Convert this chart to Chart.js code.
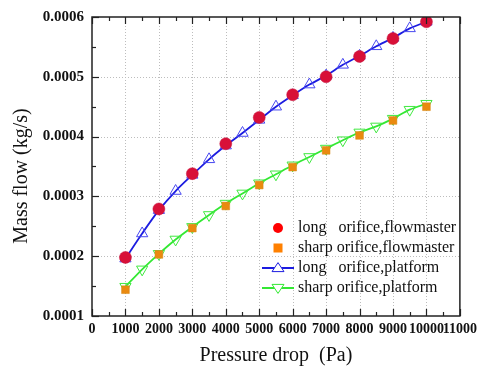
<!DOCTYPE html>
<html><head><meta charset="utf-8">
<script src="https://cdn.jsdelivr.net/npm/chart.js@4/dist/chart.umd.min.js"></script>
<style>html,body{margin:0;padding:0;background:#fff;}#wrap{width:482px;height:371px;}</style>
</head><body><div id="wrap"><canvas id="c" width="482" height="371"></canvas></div>
<script>
const xFlowmaster = [1000,2000,3000,4000,5000,6000,7000,8000,9000,10000];
const longFlowmaster = [0.000198,0.000279,0.000338,0.000388,0.000432,0.000470,0.000500,0.000534,0.000564,0.000592];
const sharpFlowmaster = [0.000144,0.000203,0.000247,0.000284,0.000319,0.000349,0.000377,0.000402,0.000427,0.000450];
const xPlatform = [1000,1500,2000,2500,3000,3500,4000,4500,5000,5500,6000,6500,7000,7500,8000,8500,9000,9500,10000];
const longPlatform = [0.000196,0.000238,0.000277,0.000309,0.000336,0.000362,0.000385,0.000406,0.000428,0.000450,0.000469,0.000487,0.000502,0.000520,0.000535,0.000551,0.000565,0.000581,0.000592];
const sharpPlatform = [0.000149,0.000178,0.000204,0.000228,0.000249,0.000269,0.000288,0.000305,0.000322,0.000337,0.000352,0.000366,0.000380,0.000394,0.000407,0.000417,0.000430,0.000445,0.000455];
const seriesLabels = ['long   orifice,flowmaster','sharp orifice,flowmaster','long   orifice,platform','sharp orifice,platform'];
const xTitle = 'Pressure drop  (Pa)';
const yTitle = 'Mass flow (kg/s)';
const xRange = [0, 11000, 1000];
const yRange = [0.0001, 0.0006, 0.0001];

const pts = (xs, ys) => xs.map((x,i)=>({x:x,y:ys[i]}));
const SERIF = "'Liberation Serif','Times New Roman',serif";

const deco = {
  id:'deco',
  beforeDatasetsDraw(chart){
    const {ctx, chartArea:a, scales:{x,y}} = chart;
    ctx.save();
    ctx.strokeStyle='#bdbdbd'; ctx.lineWidth=1; ctx.setLineDash([1,2]);
    for(let v=xRange[0]+xRange[2]; v<xRange[1]; v+=xRange[2]){
      const px=Math.round(x.getPixelForValue(v))+0.5;
      ctx.beginPath(); ctx.moveTo(px,a.top); ctx.lineTo(px,a.bottom); ctx.stroke();
    }
    for(let k=1;k<5;k++){
      const v=yRange[0]+k*yRange[2];
      const py=Math.round(y.getPixelForValue(v))+0.5;
      ctx.beginPath(); ctx.moveTo(a.left,py); ctx.lineTo(a.right,py); ctx.stroke();
    }
    ctx.restore();
  },
  afterDatasetsDraw(chart){
    const {ctx, chartArea:a, scales:{x,y}} = chart;
    ctx.save();
    ctx.setLineDash([]);
    ctx.strokeStyle='#222'; ctx.lineWidth=1.5;
    ctx.strokeRect(a.left,a.top,a.right-a.left,a.bottom-a.top);
    ctx.lineWidth=1.2;
    for(let v=xRange[0]; v<=xRange[1]; v+=xRange[2]/2){
      const px=Math.round(x.getPixelForValue(v))+0.5;
      const L = (v % xRange[2]===0)?7:4;
      ctx.beginPath(); ctx.moveTo(px,a.bottom); ctx.lineTo(px,a.bottom-L); ctx.stroke();
      ctx.beginPath(); ctx.moveTo(px,a.top); ctx.lineTo(px,a.top+L); ctx.stroke();
    }
    for(let k=0;k<=10;k++){
      const v=yRange[0]+k*yRange[2]/2;
      const py=Math.round(y.getPixelForValue(v))+0.5;
      const L=(k%2===0)?7:4;
      ctx.beginPath(); ctx.moveTo(a.left,py); ctx.lineTo(a.left+L,py); ctx.stroke();
    }
    ctx.fillStyle='#111';
    ctx.font='20px '+SERIF; ctx.textAlign='center'; ctx.textBaseline='middle';
    ctx.fillText(xTitle,(a.left+a.right)/2,356);
    ctx.save(); ctx.translate(22,176); ctx.rotate(-Math.PI/2); ctx.fillText(yTitle,0,0); ctx.restore();
    ctx.font='16px '+SERIF; ctx.textAlign='left';
    const ys=[228,248,268,288];
    chart.data.datasets.forEach((ds,i)=>{
      const cy=ys[i], cx=278;
      if(ds.showLine){
        ctx.strokeStyle=ds.borderColor; ctx.lineWidth=2;
        ctx.beginPath(); ctx.moveTo(262,cy); ctx.lineTo(294,cy); ctx.stroke();
        ctx.lineWidth=1;
        ctx.beginPath();
        const r=6;
        if(ds.pointRotation===180){
          ctx.moveTo(cx-r,cy-r*0.6); ctx.lineTo(cx+r,cy-r*0.6); ctx.lineTo(cx,cy+r*0.9);
        } else {
          ctx.moveTo(cx-r,cy+r*0.6); ctx.lineTo(cx+r,cy+r*0.6); ctx.lineTo(cx,cy-r*0.9);
        }
        ctx.closePath(); ctx.fillStyle='#fff'; ctx.fill(); ctx.stroke();
      } else if(ds.pointStyle==='circle'){
        ctx.fillStyle='#ff0000'; ctx.beginPath(); ctx.arc(cx,cy,5,0,Math.PI*2); ctx.fill();
      } else {
        ctx.fillStyle='#ff8000'; ctx.fillRect(cx-4.5,cy-4.5,9,9);
      }
      ctx.fillStyle='#111';
      ctx.fillText(ds.label,298,cy);
    });
    ctx.restore();
  }
};

new Chart(document.getElementById('c'),{
  type:'scatter',
  data:{datasets:[
    {label:seriesLabels[0],data:pts(xFlowmaster,longFlowmaster),pointStyle:'circle',pointRadius:6,backgroundColor:'#d81038',borderColor:'#c8103c',borderWidth:0.5,showLine:false},
    {label:seriesLabels[1],data:pts(xFlowmaster,sharpFlowmaster),pointStyle:'rect',pointRadius:5.5,backgroundColor:'#ea8a10',borderColor:'#d88a18',borderWidth:0.5,showLine:false},
    {label:seriesLabels[2],data:pts(xPlatform,longPlatform),pointStyle:'triangle',pointRadius:6.5,backgroundColor:'rgba(255,255,255,0)',borderColor:'#1c1ce0',pointBorderColor:'#4848f0',pointBorderWidth:1,borderWidth:1.8,showLine:true,tension:0.3,pointRotation:0},
    {label:seriesLabels[3],data:pts(xPlatform,sharpPlatform),pointStyle:'triangle',pointRadius:6.5,backgroundColor:'rgba(255,255,255,0)',borderColor:'#33e833',pointBorderColor:'#40e840',pointBorderWidth:1,borderWidth:1.8,showLine:true,tension:0.3,pointRotation:180}
  ]},
  options:{
    responsive:false, animation:false, devicePixelRatio:1,
    layout:{padding:{left:0,right:18,top:15,bottom:0}},
    plugins:{legend:{display:false},tooltip:{enabled:false}},
    scales:{
      x:{type:'linear',min:xRange[0],max:xRange[1],
         afterFit(s){s.height=55;},
         grid:{display:false,drawTicks:false}, border:{display:false},
         ticks:{stepSize:xRange[2],autoSkip:false,maxRotation:0,padding:5,color:'#111',
           font:{family:SERIF,size:14,weight:'bold'},callback:v=>String(v)}},
      y:{type:'linear',min:yRange[0],max:yRange[1],
         afterFit(s){s.width=92;},
         grid:{display:false,drawTicks:false}, border:{display:false},
         ticks:{stepSize:yRange[2],padding:8,color:'#111',
           font:{family:SERIF,size:15,weight:'bold'},callback:v=>Number(v).toFixed(4)}}
    }
  },
  plugins:[deco]
});
</script></body></html>
